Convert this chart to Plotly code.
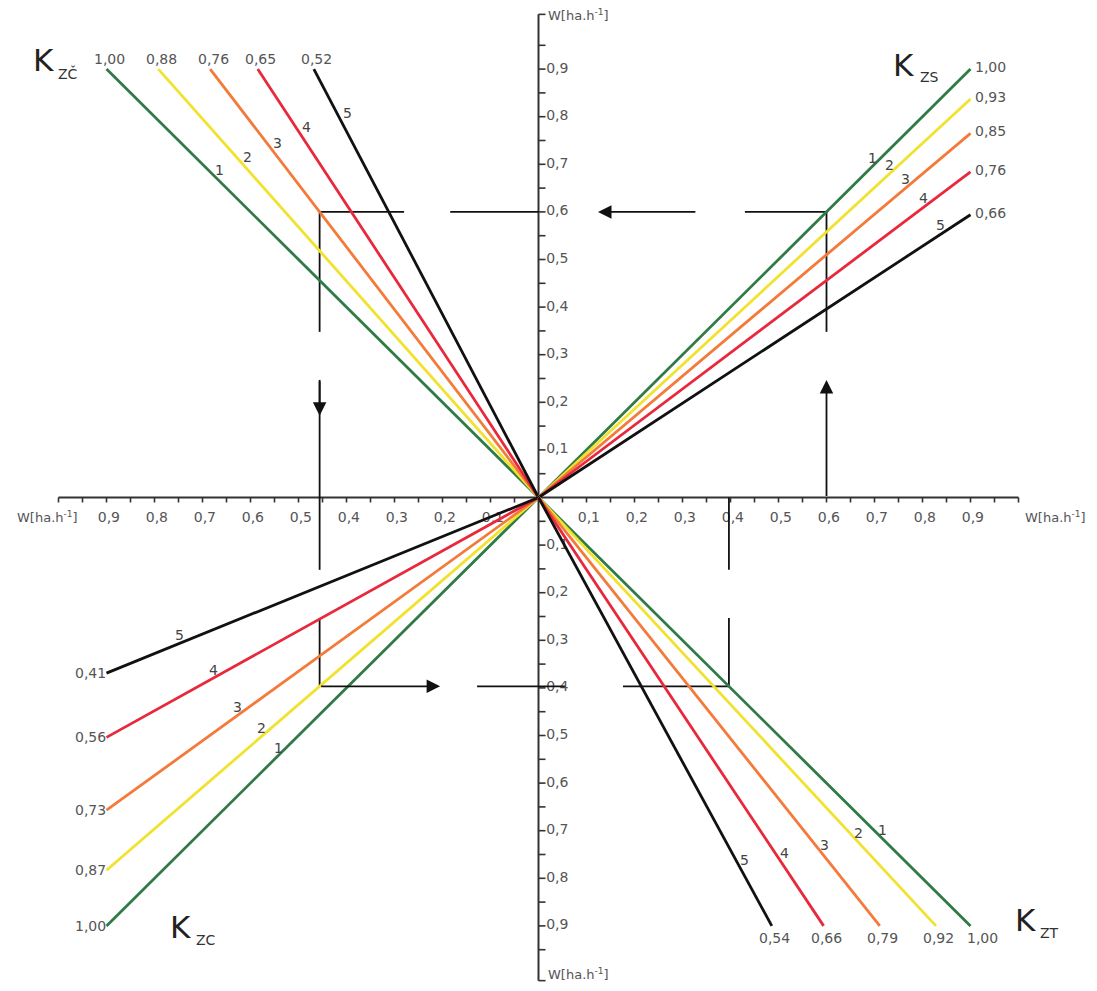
import plotly.graph_objects as go

# ---------------- data ----------------
curve_ids = ["1", "2", "3", "4", "5"]
k_zs = [1.00, 0.93, 0.85, 0.76, 0.66]        # upper right  K_ZS
k_zcc = [1.00, 0.88, 0.76, 0.65, 0.52]       # upper left   K_ZČ
k_zc = [1.00, 0.87, 0.73, 0.56, 0.41]        # lower left   K_ZC
k_zt = [1.00, 0.92, 0.79, 0.66, 0.54]        # lower right  K_ZT
k_labels_zs = ["1,00", "0,93", "0,85", "0,76", "0,66"]
k_labels_zcc = ["1,00", "0,88", "0,76", "0,65", "0,52"]
k_labels_zc = ["1,00", "0,87", "0,73", "0,56", "0,41"]
k_labels_zt = ["1,00", "0,92", "0,79", "0,66", "0,54"]
w_max = 0.9
tick_values = [0.1, 0.2, 0.3, 0.4, 0.5, 0.6, 0.7, 0.8, 0.9]
tick_labels = ["0,1", "0,2", "0,3", "0,4", "0,5", "0,6", "0,7", "0,8", "0,9"]
axis_title = "W[ha.h<sup>-1</sup>]"
example_w = 0.6
example_curves = [0, 2, 1, 0]   # curve index used in ZS, ZČ, ZC, ZT

# ---------------- style ----------------
colors = ["#2f7a45", "#f1e22e", "#f47a3a", "#e8283c", "#111111"]
PAGE_OFF = 8                   # default body margin of the html page
W, H = 1097 - 2 * PAGE_OFF, 991 - 2 * PAGE_OFF
ox, oy = 538.5 - PAGE_OFF, 497.5 - PAGE_OFF   # pixel origin inside figure
sx, sy = 480.0, 476.0          # pixels per unit
FONT = "DejaVu Sans"
GRAY = "#555555"

fig = go.Figure()

def seg_trace(xs, ys, color, width):
    fig.add_trace(go.Scatter(x=xs, y=ys, mode="lines",
                             line=dict(color=color, width=width),
                             hoverinfo="skip", showlegend=False))

def px2x(p): return (p - PAGE_OFF - ox) / sx
def py2y(p): return (oy - (p - PAGE_OFF)) / sy

# tick labels (drawn first, under the lines)
lx, ly, lt = [], [], []
for v, t in zip(tick_values, tick_labels):
    for s in (1, -1):
        lx.append(s * v + 0.005); ly.append(-0.044); lt.append(t)
fig.add_trace(go.Scatter(x=lx, y=ly, text=lt, mode="text",
                         textfont=dict(family=FONT, size=14, color=GRAY),
                         textposition="middle center", hoverinfo="skip",
                         showlegend=False))
yx, yy, yt = [], [], []
for v, t in zip(tick_values, tick_labels):
    for s in (1, -1):
        yx.append(0.016); yy.append(s * v); yt.append(t)
fig.add_trace(go.Scatter(x=yx, y=yy, text=yt, mode="text",
                         textfont=dict(family=FONT, size=14, color=GRAY),
                         textposition="middle right", hoverinfo="skip",
                         showlegend=False))

# axes
x_end, y_end = 1.0, 1.015
seg_trace([-x_end, x_end], [0, 0], "#333333", 2)
seg_trace([0, 0], [-y_end, y_end], "#333333", 2)
tx, ty = [], []
tlen_x = 5 / sy
tlen_y = 7 / sx
for i in range(1, 21):
    v = i * 0.05
    for s in (1, -1):
        tx += [s * v, s * v, None]; ty += [0, -tlen_x, None]
for i in range(1, 20):
    v = i * 0.05
    for s in (1, -1):
        tx += [0, tlen_y, None]; ty += [s * v, s * v, None]
for s in (1, -1):
    tx += [0, tlen_y, None]; ty += [s * y_end, s * y_end, None]
seg_trace(tx, ty, "#333333", 1.6)

# guide path (example)
w0 = example_w
y1 = w0 * k_zs[example_curves[0]]
x2 = -y1 * k_zcc[example_curves[1]]
y3 = x2 * k_zc[example_curves[2]]
x4 = -y3 * k_zt[example_curves[3]]
gx, gy = [], []
def g(xa, ya, xb, yb):
    gx.extend([xa, xb, None]); gy.extend([ya, yb, None])
g(w0, y1, w0, 0.348)
g(w0, y1, 0.43, y1)
g(0.0, y1, -0.184, y1)
g(-0.28, y1, x2, y1)
g(x2, y1, x2, 0.348)
g(x2, 0.247, x2, -0.152)
g(x2, -0.253, x2, y3)
g(-0.128, y3, 0.055, y3)
g(0.176, y3, x4, y3)
g(x4, y3, x4, -0.253)
g(x4, -0.152, x4, 0.0)
seg_trace(gx, gy, "#111111", 1.8)

arrows = [((w0, 0.0), (w0, 0.247)),
          ((0.33, y1), (0.124, y1)),
          ((x2, 0.247), (x2, 0.172)),
          ((x2, y3), (-0.205, y3))]
ann = []
for (ax_, ay_), (x_, y_) in arrows:
    ann.append(dict(x=x_, y=y_, ax=ax_, ay=ay_, xref="x", yref="y",
                    axref="x", ayref="y", text="", showarrow=True,
                    arrowhead=2, arrowsize=1.5, arrowwidth=1.8,
                    arrowcolor="#111111", standoff=0, startstandoff=0))

# nomogram lines
quads = [
    ("zcc", k_zcc, k_labels_zcc, lambda k: (-w_max * k, w_max)),
    ("zs", k_zs, k_labels_zs, lambda k: (w_max, w_max * k)),
    ("zc", k_zc, k_labels_zc, lambda k: (-w_max, -w_max * k)),
    ("zt", k_zt, k_labels_zt, lambda k: (w_max * k, -w_max)),
]
for name, ks, labs, endf in quads:
    for i, k in enumerate(ks):
        ex, ey = endf(k)
        seg_trace([0, ex], [0, ey], colors[i], 2.8)

# endpoint labels
lab_font = dict(family=FONT, size=14, color=GRAY)
for name, ks, labs, endf in quads:
    for i, (k, lab) in enumerate(zip(ks, labs)):
        ex, ey = endf(k)
        if name == "zcc":
            a = dict(xanchor="center", yanchor="middle", xshift=3, yshift=10)
        elif name == "zs":
            a = dict(xanchor="left", yanchor="middle", xshift=2, yshift=2)
        elif name == "zc":
            a = dict(xanchor="right", yanchor="middle", xshift=1, yshift=0)
        else:
            a = dict(xanchor="center", yanchor="middle",
                     xshift=3 + (9 if i == 0 else 0), yshift=-12)
        ann.append(dict(x=ex, y=ey, xref="x", yref="y", text=lab,
                        showarrow=False, font=lab_font, **a))

# curve number labels along lines
num_pos = {
    "zcc": ([0.764, 0.794, 0.828, 0.864, 0.898], 11, 0),
    "zs": ([0.772, 0.813, 0.849, 0.891, 0.931], 0, 9),
    "zc": ([0.603, 0.641, 0.697, 0.753, 0.830], 0, 8),
    "zt": ([0.776, 0.783, 0.811, 0.830, 0.846], 9, 0),
}
num_font = dict(family=FONT, size=14, color="#444444")
for name, ks, labs, endf in quads:
    fr, xs_, ys_ = num_pos[name]
    for i, k in enumerate(ks):
        ex, ey = endf(k)
        ann.append(dict(x=ex * fr[i], y=ey * fr[i], xref="x", yref="y",
                        text=curve_ids[i], showarrow=False, font=num_font,
                        xshift=xs_, yshift=ys_))

# quadrant titles
titles = [("ZČ", 43, 60, 68, 73), ("ZS", 903, 65, 929, 77),
          ("ZC", 180, 927, 206, 940), ("ZT", 1025, 920, 1049, 933)]
for sub, kx, ky, sbx, sby in titles:
    ann.append(dict(x=px2x(kx), y=py2y(ky), xref="x", yref="y", text="K",
                    showarrow=False,
                    font=dict(family=FONT, size=31, color="#222222")))
    ann.append(dict(x=px2x(sbx), y=py2y(sby), xref="x", yref="y", text=sub,
                    showarrow=False,
                    font=dict(family=FONT, size=14, color="#333333")))

# axis titles
tfont = dict(family=FONT, size=13, color=GRAY)
ann.append(dict(x=px2x(47), y=py2y(517), xref="x", yref="y", text=axis_title,
                showarrow=False, font=tfont))
ann.append(dict(x=px2x(1055), y=py2y(517), xref="x", yref="y", text=axis_title,
                showarrow=False, font=tfont))
ann.append(dict(x=px2x(546), y=py2y(15), xref="x", yref="y", text=axis_title,
                showarrow=False, font=tfont, xanchor="left"))
ann.append(dict(x=px2x(546), y=py2y(974), xref="x", yref="y", text=axis_title,
                showarrow=False, font=tfont, xanchor="left"))

fig.update_layout(
    width=W, height=H, margin=dict(l=0, r=0, t=0, b=0),
    paper_bgcolor="white", plot_bgcolor="white",
    xaxis=dict(range=[-ox / sx, (W - ox) / sx], visible=False, fixedrange=True),
    yaxis=dict(range=[-(H - oy) / sy, oy / sy], visible=False, fixedrange=True),
    annotations=ann, showlegend=False,
)
fig.write_html("out.html")
